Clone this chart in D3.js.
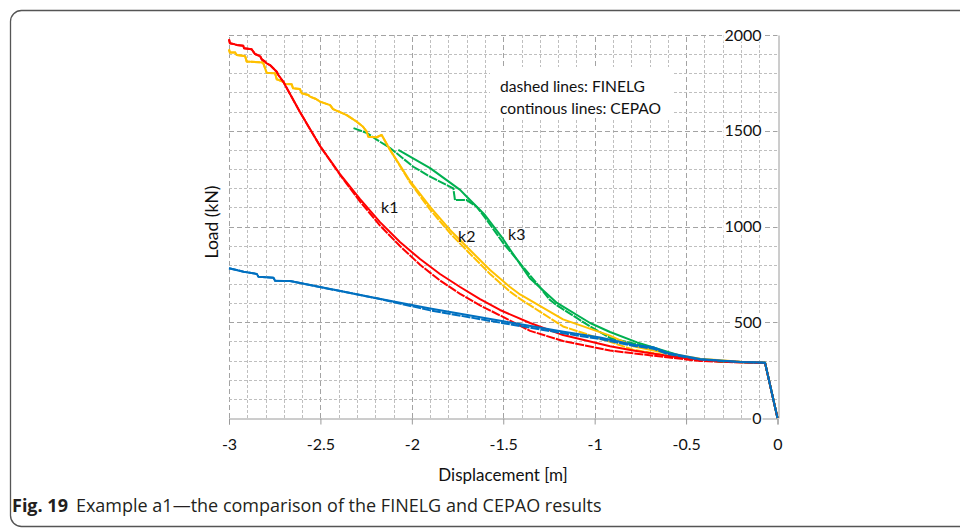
<!DOCTYPE html>
<html>
<head>
<meta charset="utf-8">
<script src="https://cdn.jsdelivr.net/npm/d3@7/dist/d3.min.js"></script>
<style>
  body { margin: 0; background: #fff; }
  svg { display: block; }
</style>
</head>
<body>
<svg id="chart" width="960" height="530"></svg>
<script>
// Axis ticks
const xTicks = [-3, -2.5, -2, -1.5, -1, -0.5, 0];
const yTicks = [0, 500, 1000, 1500, 2000];

// Load [kN] versus displacement [m]; FINELG (dashed) and CEPAO (continuous)
const redTop = [[-3.0,1978],[-2.995,1957],[-2.967,1951],[-2.958,1948],[-2.922,1944],[-2.918,1931],
  [-2.876,1925],[-2.867,1913],[-2.858,1901],[-2.830,1890],[-2.821,1873],[-2.803,1861],[-2.794,1852],
  [-2.776,1843],[-2.758,1826],[-2.739,1808],[-2.730,1791],[-2.703,1756],[-2.612,1598],[-2.502,1420]];
const redCepao = [[-2.393,1274],[-2.283,1143],[-2.174,1023],[-2.065,919],[-1.955,830],[-1.846,752],
  [-1.736,684],[-1.627,621],[-1.518,564],[-1.353,496],[-1.173,433],[-0.916,375],[-0.79,352],
  [-0.604,325],[-0.423,303],[-0.2,292],[-0.068,288],[0,0]];
const redFinelg = [[-2.393,1270],[-2.283,1130],[-2.174,1005],[-2.065,898],[-1.955,800],[-1.846,718],
  [-1.736,648],[-1.627,588],[-1.518,536],[-1.353,455],[-1.173,402],[-0.916,352],[-0.79,338],
  [-0.604,317],[-0.423,298],[-0.2,290],[-0.068,287],[0,0]];

const yellowTop = [[-3.0,1925],[-2.995,1908],[-2.965,1908],[-2.958,1896],[-2.912,1890],[-2.903,1861],
  [-2.814,1857],[-2.794,1803],[-2.748,1800],[-2.739,1769],[-2.703,1756],[-2.694,1744],[-2.657,1743],
  [-2.650,1722],[-2.612,1718],[-2.603,1696],[-2.566,1687],[-2.557,1678],[-2.524,1666],[-2.502,1652],
  [-2.447,1634],[-2.431,1613],[-2.356,1582],[-2.301,1547],[-2.267,1521],[-2.247,1495],[-2.238,1469],
  [-2.192,1466],[-2.165,1478],[-2.119,1400]];
const yellowCepao = [[-2.010,1238],[-1.900,1102],[-1.791,982],[-1.682,877],[-1.572,773],[-1.463,684],
  [-1.408,645],[-1.173,515],[-0.916,430],[-0.79,375],[-0.604,338],[-0.423,310],[-0.2,294],
  [-0.068,289],[0,0]];
const yellowFinelg = [[-2.010,1230],[-1.900,1088],[-1.791,965],[-1.682,858],[-1.572,752],[-1.463,660],
  [-1.408,622],[-1.173,478],[-0.916,398],[-0.79,357],[-0.604,326],[-0.423,305],[-0.2,292],
  [-0.068,288],[0,0]];

const greenCepao = [[-2.074,1400],[-1.900,1305],[-1.736,1191],[-1.698,1154],[-1.600,1060],[-1.501,935],
  [-1.463,880],[-1.353,728],[-1.206,601],[-1.025,496],[-0.916,449],[-0.768,395],[-0.495,315],
  [-0.314,295],[-0.068,289],[0,0]];
const greenFinelg = [[-2.319,1514],[-2.245,1488],[-2.190,1452],[-2.119,1410],[-1.992,1312],[-1.900,1260],
  [-1.773,1199],[-1.764,1138],[-1.700,1138],[-1.645,1103],[-1.590,1034],[-1.499,912],[-1.408,808],
  [-1.317,703],[-1.244,616],[-1.206,588],[-1.025,478],[-0.916,418],[-0.768,385],[-0.495,313],
  [-0.314,294],[-0.068,289],[0,0]];

const blueTop = [[-3.0,782],[-2.920,764],[-2.848,752],[-2.839,738],[-2.757,733],[-2.748,717],
  [-2.666,715],[-2.192,625]];
const blueCepao = [[-1.900,572],[-1.500,505],[-1.350,480],[-1.170,450],[-0.970,420],[-0.790,383],
  [-0.680,370],[-0.604,341],[-0.423,308],[-0.2,293],[-0.068,289],[0,0]];
const blueFinelg = [[-1.900,562],[-1.500,495],[-1.350,471],[-1.170,442],[-0.970,412],[-0.790,377],
  [-0.680,362],[-0.604,335],[-0.423,305],[-0.2,292],[-0.068,288],[0,0]];

const curveLabels = [["k1",-2.168,1070],["k2",-1.747,919],["k3",-1.474,929]];
const noteLines = ["dashed lines: FINELG", "continous lines: CEPAO"];

const svg = d3.select("#chart");
const x = d3.scaleLinear().domain([-3, 0]).range([229, 777.5]);
const y = d3.scaleLinear().domain([0, 2000]).range([418, 35]);
const px = v => Math.round(x(v)) + 0.5;
const py = v => Math.round(y(v)) + 0.5;
const chartFont = "Lato, 'Open Sans', sans-serif";

// outer figure frame
svg.append("rect").attr("x", 10.5).attr("y", 10.5).attr("width", 1000).attr("height", 516)
  .attr("rx", 11).attr("fill", "none").attr("stroke", "#555").attr("stroke-width", 1.3);

// gridlines: minor every 0.1 m / 100 kN, major at the ticks
const gx = d3.range(31).map(i => +(-3 + i * 0.1).toFixed(1));
const gy = d3.range(21).map(i => i * 100);
const grid = svg.append("g");
gx.filter(v => v !== 0).forEach(v => {
  const major = Math.round(v * 10) % 5 === 0;
  grid.append("line").attr("x1", px(v)).attr("x2", px(v)).attr("y1", y(0)).attr("y2", y(2000))
    .attr("stroke", major ? "#a3a3a3" : "#bfbfbf").attr("stroke-width", 1)
    .attr("stroke-dasharray", major ? "5,3" : "3,2");
});
gy.filter(v => v !== 0).forEach(v => {
  const major = v % 500 === 0;
  grid.append("line").attr("y1", py(v)).attr("y2", py(v)).attr("x1", x(-3)).attr("x2", x(0))
    .attr("stroke", major ? "#a3a3a3" : "#bfbfbf").attr("stroke-width", 1)
    .attr("stroke-dasharray", major ? "5,3" : "3,2");
});

// note box
svg.append("rect").attr("x", 490).attr("y", 67).attr("width", 184).attr("height", 51).attr("fill", "#fff");
svg.append("g").selectAll("text").data(noteLines).join("text")
  .attr("x", 500).attr("y", (d, i) => 91.5 + i * 22.5)
  .attr("font-family", chartFont).attr("font-size", 15.6).attr("fill", "#111").text(d => d);

// axes
const axisColor = "#9a9a9a";
const xAxis = d3.axisBottom(x).tickValues(xTicks).tickSize(6).tickFormat(d => d3.format("")(d).replace("\u2212", "-"));
const gX = svg.append("g").attr("transform", `translate(0,${py(0)})`).call(xAxis);
gX.select(".domain").attr("stroke", axisColor);
gX.selectAll(".tick line").attr("stroke", axisColor);
gX.selectAll(".tick text").attr("font-family", chartFont).attr("font-size", 16).attr("fill", "#111")
  .attr("y", 20).attr("dy", "0.71em");

const yAxis = d3.axisLeft(y).tickValues(yTicks).tickSize(0).tickPadding(17).tickFormat(d3.format("d"));
const gY = svg.append("g").attr("transform", `translate(${px(0)},0)`).call(yAxis);
gY.select(".domain").attr("stroke", axisColor);
gY.selectAll(".tick text").attr("font-family", chartFont).attr("font-size", 16).attr("fill", "#111");
gY.selectAll(".tick").each(function () {
  const t = d3.select(this).select("text");
  const b = t.node().getBBox();
  d3.select(this).insert("rect", "text").attr("x", b.x - 1).attr("y", b.y + 2)
    .attr("width", b.width + 2).attr("height", b.height - 4).attr("fill", "#fff");
});

// curves
const line = d3.line().x(d => x(d[0])).y(d => y(d[1]));
const series = [
  { d: greenFinelg, c: "#00b050", dash: true },
  { d: greenCepao, c: "#00b050", dash: false },
  { d: yellowTop.concat(yellowFinelg), c: "#ffc000", dash: true },
  { d: yellowTop.concat(yellowCepao), c: "#ffc000", dash: false },
  { d: redTop.concat(redFinelg), c: "#ff0000", dash: true },
  { d: redTop.concat(redCepao), c: "#ff0000", dash: false },
  { d: blueTop.concat(blueFinelg), c: "#0070c0", dash: true },
  { d: blueTop.concat(blueCepao), c: "#0070c0", dash: false }
];
svg.append("g").selectAll("path").data(series).join("path")
  .attr("d", s => line(s.d)).attr("fill", "none").attr("stroke", s => s.c)
  .attr("stroke-width", 2).attr("stroke-linejoin", "round")
  .attr("stroke-dasharray", s => s.dash ? "9,1" : null);

// curve labels
svg.append("g").selectAll("text").data(curveLabels).join("text")
  .attr("x", d => x(d[1])).attr("y", d => y(d[2]))
  .attr("font-family", chartFont).attr("font-size", 16).attr("fill", "#111").text(d => d[0]);

// axis titles
svg.append("text").attr("x", 503).attr("y", 481).attr("text-anchor", "middle")
  .attr("font-family", chartFont).attr("font-size", 17).attr("fill", "#111").text("Displacement [m]");
svg.append("text").attr("transform", "translate(218,222) rotate(-90)").attr("text-anchor", "middle")
  .attr("font-family", chartFont).attr("font-size", 17.5).attr("fill", "#111").text("Load (kN)");

// caption
const cap = svg.append("text").attr("x", 12).attr("y", 512)
  .attr("font-family", "'Open Sans', 'Noto Sans', sans-serif").attr("font-size", 18).attr("fill", "#231f20");
cap.append("tspan").attr("font-weight", "bold").text("Fig. 19");
cap.append("tspan").attr("dx", 8).text("Example a1\u2014the comparison of the FINELG and CEPAO results");
</script>
</body>
</html>
